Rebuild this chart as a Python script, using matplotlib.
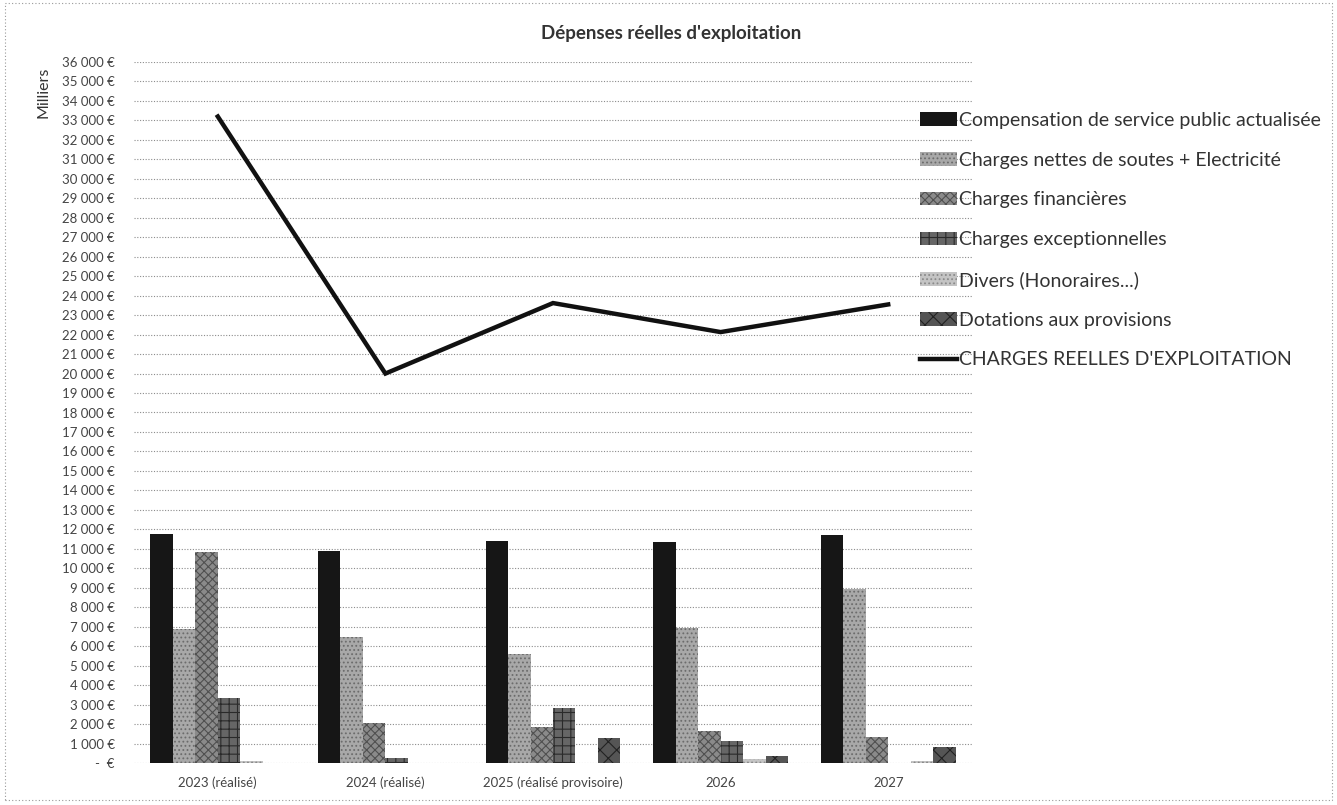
import matplotlib
matplotlib.use("Agg")
import matplotlib.pyplot as plt
import numpy as np
from matplotlib.patches import Rectangle
from matplotlib.ticker import FuncFormatter, MultipleLocator

plt.rcParams["font.family"] = ["Lato", "DejaVu Sans"]
plt.rcParams["hatch.linewidth"] = 0.8

categories = ["2023 (réalisé)", "2024 (réalisé)", "2025 (réalisé provisoire)", "2026", "2027"]
compensation = [11780, 10870, 11380, 11350, 11730]
soutes_electricite = [6900, 6480, 5580, 6950, 8960]
financieres = [10860, 2050, 1830, 1650, 1350]
exceptionnelles = [3360, 250, 2850, 1140, 0]
divers = [100, 0, 20, 220, 100]
dotations = [0, 0, 1280, 340, 800]
charges_reelles = [33200, 20000, 23620, 22130, 23550]

series_labels = [
    "Compensation de service public actualisée",
    "Charges nettes de soutes + Electricité",
    "Charges financières",
    "Charges exceptionnelles",
    "Divers (Honoraires...)",
    "Dotations aux provisions",
]
line_label = "CHARGES REELLES D'EXPLOITATION"

# greyscale fills imitating the printed/scanned pattern fills
styles = [
    dict(color="#161616", hatch=None, edge="#161616"),
    dict(color="#a8a8a8", hatch="....", edge="#6c6c6c"),
    dict(color="#8a8a8a", hatch="xxxx", edge="#505050"),
    dict(color="#666666", hatch="++", edge="#2a2a2a"),
    dict(color="#c4c4c4", hatch="....", edge="#8a8a8a"),
    dict(color="#555555", hatch="xx", edge="#222222"),
]

W, H = 1337, 805
fig = plt.figure(figsize=(W / 100, H / 100), dpi=100)
ax = fig.add_axes([134 / W, 1 - 763 / H, (972 - 134) / W, (763 - 62) / H])

x = np.arange(len(categories))
bar_w = 0.134
values = [compensation, soutes_electricite, financieres, exceptionnelles, divers, dotations]
handles = []
for i, (vals, st, lab) in enumerate(zip(values, styles, series_labels)):
    offs = (i - 2.5) * bar_w
    bars = ax.bar(x + offs, vals, width=bar_w, color=st["color"], edgecolor=st["edge"],
                  hatch=st["hatch"], linewidth=0, label=lab, zorder=3)
    handles.append(bars)

line, = ax.plot(x, charges_reelles, color="#111111", linewidth=3.2,
                solid_joinstyle="miter", label=line_label, zorder=4)
handles.append(line)

ax.set_xlim(-0.5, len(categories) - 0.5)
ax.set_ylim(0, 36000)
ax.yaxis.set_major_locator(MultipleLocator(1000))


def euro(v, pos):
    if v == 0:
        return "-  €"
    return f"{int(v):,}".replace(",", "\u202f") + " €"


ax.yaxis.set_major_formatter(FuncFormatter(euro))
ax.set_xticks(x)
ax.set_xticklabels(categories)
ax.tick_params(axis="both", length=0, labelsize=9.5, colors="#444444")
ax.tick_params(axis="y", pad=14)
ax.tick_params(axis="x", pad=10)
ax.grid(True, axis="y", linestyle=(0, (1, 1.5)), color="#8c8c8c", linewidth=0.8, zorder=0)
for s in ax.spines.values():
    s.set_visible(False)

fig.text(43 / W, 1 - 92 / H, "Milliers", rotation=90, ha="center", va="center",
         fontsize=11.5, color="#333333")
fig.text(0.502, 1 - 33 / H, "Dépenses réelles d'exploitation", ha="center", va="center",
         fontsize=13.5, fontweight="bold", color="#333333")

leg = fig.legend(handles=handles, labels=series_labels + [line_label], loc="upper left",
                 bbox_to_anchor=(920 / W, 1 - 112 / H), frameon=False, fontsize=14,
                 handlelength=1.9, handleheight=0.7, handletextpad=0.08, labelspacing=1.17,
                 borderpad=0, borderaxespad=0)
for t in leg.get_texts():
    t.set_color("#333333")

# dotted chart-area border
fig.patches.append(Rectangle((5 / W, 5 / H), 1 - 10 / W, 1 - 8 / H, transform=fig.transFigure,
                             fill=False, edgecolor="#999999", linestyle=(0, (1, 2)), linewidth=0.8))

fig.savefig("out.png", dpi=100)
